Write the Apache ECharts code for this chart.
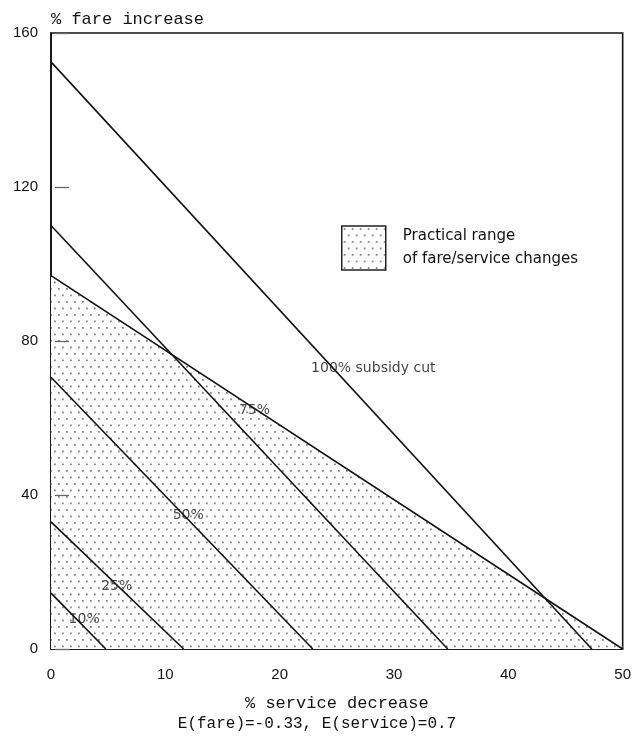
<!DOCTYPE html>
<html>
<head>
<meta charset="utf-8">
<script src="https://cdn.jsdelivr.net/npm/echarts@6/dist/echarts.min.js"></script>
<style>
html,body{margin:0;padding:0;background:#fff;}
#chart{width:634px;height:738px;}
</style>
</head>
<body>
<div id="chart"></div>
<script>
// ---- data ----
var xTicks = [0, 10, 20, 30, 40, 50];
var yTicks = [0, 40, 80, 120, 160];
var cut100 = [[0, 152.5], [47.3, 0]];
var cut75  = [[0, 110], [34.7, 0]];
var cut50  = [[0, 70.6], [22.9, 0]];
var cut25  = [[0, 33], [11.6, 0]];
var cut10  = [[0, 14.5], [4.8, 0]];
var practicalRange = [[0, 97], [50, 0]];
var curveLabels = [[2.9, 7.8, '10%'], [5.75, 16.4, '25%'], [12.0, 34.8, '50%'], [17.8, 62, '75%']];
var cutLabel = [[22.75, 73, '100% subsidy cut']];
var legendName = 'Practical range\nof fare/service changes';

// dotted fill pattern
var pc = document.createElement('canvas');
pc.width = 8; pc.height = 13;
var pctx = pc.getContext('2d');
pctx.fillStyle = '#fff';
pctx.fillRect(0, 0, 8, 13);
pctx.fillStyle = '#888';
pctx.fillRect(2, 2, 1.8, 1.8);
pctx.fillRect(6, 8.5, 1.8, 1.8);
var dotPattern = {image: pc, repeat: 'repeat'};

function lineSeries(name, data) {
  return {
    name: name, type: 'line', data: data, symbol: 'none', silent: true,
    lineStyle: {color: '#111', width: 1.6}, z: 3
  };
}

var chart = echarts.init(document.getElementById('chart'), null, {renderer: 'canvas'});
chart.setOption({
  animation: false,
  backgroundColor: '#fff',
  grid: {left: 51, right: 9, top: 33, bottom: 89, show: true, borderColor: '#111', borderWidth: 1.6, backgroundColor: 'transparent'},
  legend: {
    left: 336, top: 218, orient: 'vertical',
    itemWidth: 44, itemHeight: 44,
    data: [{name: legendName, icon: 'rect', itemStyle: {color: dotPattern, borderColor: '#222', borderWidth: 1.5}}],
    textStyle: {fontFamily: 'DejaVu Sans', fontSize: 15, color: '#111', lineHeight: 23, padding: [4, 0, 0, 12]},
    selectedMode: false
  },
  title: {
    text: 'E(fare)=-0.33, E(service)=0.7',
    left: 'center', top: 711,
    textStyle: {fontFamily: 'Liberation Mono', fontSize: 16, fontWeight: 'normal', color: '#111'}
  },
  xAxis: [{
    type: 'value', min: 0, max: 50, interval: 10,
    name: '% service decrease', nameLocation: 'middle', nameGap: 46,
    nameTextStyle: {fontFamily: 'Liberation Mono', fontSize: 17, color: '#111'},
    axisLine: {lineStyle: {color: '#111', width: 1.6}},
    axisTick: {inside: true, length: 3, lineStyle: {color: '#333'}},
    axisLabel: {margin: 18, fontFamily: 'Liberation Sans', fontSize: 15, color: '#111',
      formatter: function (v) { return xTicks.indexOf(v) >= 0 ? String(v) : ''; }},
    splitLine: {show: false}
  }],
  yAxis: [{
    type: 'value', min: 0, max: 160, interval: 40,
    name: '% fare increase', nameLocation: 'end', nameGap: 5,
    nameTextStyle: {fontFamily: 'Liberation Mono', fontSize: 17, color: '#111', align: 'left'},
    axisLine: {lineStyle: {color: '#111', width: 1.6}},
    axisTick: {show: false},
    axisLabel: {margin: 13, fontFamily: 'Liberation Sans', fontSize: 15, color: '#111',
      formatter: function (v) { return yTicks.indexOf(v) >= 0 ? String(v) : ''; }},
    splitLine: {show: false}
  }, {
    type: 'value', min: 0, max: 160, interval: 40, position: 'left', offset: -4, z: 10,
    axisLine: {show: false},
    axisTick: {show: true, inside: true, length: 14, lineStyle: {color: '#666', width: 1.3}},
    axisLabel: {show: false},
    splitLine: {show: false}
  }],
  series: [
    {
      name: legendName, type: 'line', data: practicalRange, symbol: 'none', silent: true,
      lineStyle: {color: '#111', width: 1.6},
      itemStyle: {color: dotPattern},
      areaStyle: {color: dotPattern, opacity: 1},
      z: 2
    },
    lineSeries('100%', cut100),
    lineSeries('75%', cut75),
    lineSeries('50%', cut50),
    lineSeries('25%', cut25),
    lineSeries('10%', cut10),
    {
      type: 'scatter', data: curveLabels, symbolSize: 0, silent: true, z: 5,
      label: {show: true, position: 'inside', formatter: function (p) { return p.value[2]; },
        fontFamily: 'DejaVu Sans', fontSize: 14, color: '#222'}
    },
    {
      type: 'scatter', data: cutLabel, symbolSize: 0, silent: true, z: 5,
      label: {show: true, position: 'right', distance: 0, formatter: function (p) { return p.value[2]; },
        fontFamily: 'DejaVu Sans', fontSize: 14, color: '#111'}
    }
  ]
});
</script>
</body>
</html>
